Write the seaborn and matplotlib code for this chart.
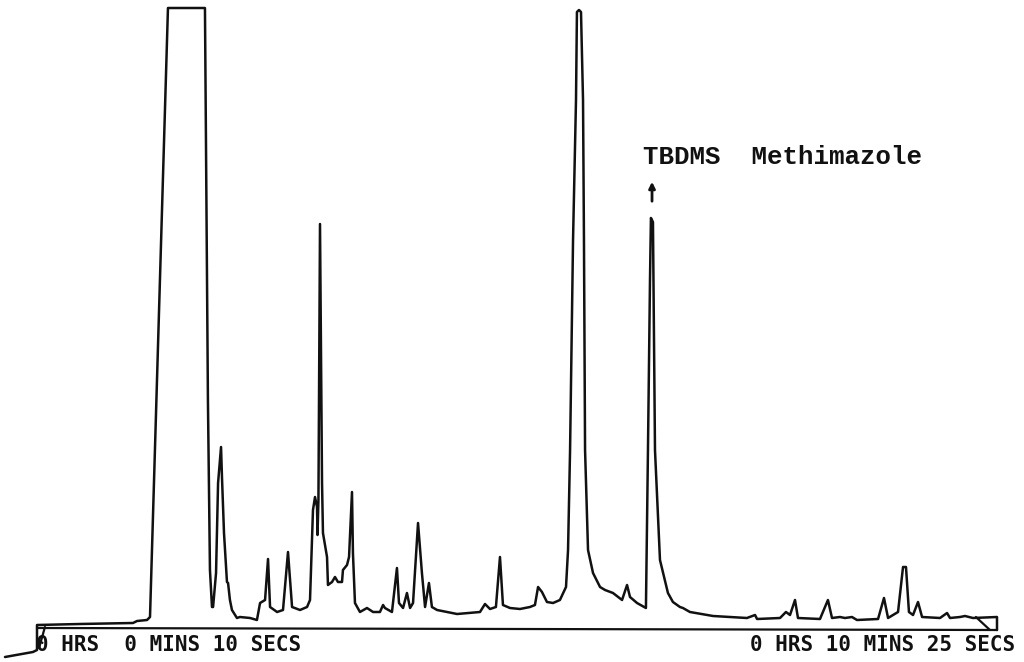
import matplotlib
matplotlib.use("Agg")
import matplotlib.pyplot as plt
import seaborn as sns
import pandas as pd

# Retention time (s) and detector response (arbitrary units)
time_s = [-10.5, 7.4, 10.0, 10.0, 37.5, 71.5, 74.1, 80.5, 82.4, 93.9, 117.6, 119.5, 120.8,
          122.1, 122.8, 124.7, 126.0, 127.9, 128.5, 129.8, 131.7, 132.4, 133.6, 134.9, 138.1,
          140.0, 146.5, 150.9, 152.9, 156.1, 158.0, 159.3, 163.8, 167.6, 170.8, 173.4, 178.5,
          183.0, 184.9, 186.8, 188.1, 189.4, 189.7, 190.3, 191.3, 192.6, 193.2, 195.8, 196.4,
          199.0, 200.9, 202.8, 205.4, 206.0, 208.6, 209.9, 211.8, 212.4, 213.7, 216.9, 221.4,
          225.3, 229.7, 231.7, 232.9, 237.4, 240.6, 241.9, 244.5, 247.0, 249.0, 250.9, 254.1,
          256.6, 258.6, 261.1, 263.0, 266.3, 272.7, 279.1, 293.8, 297.0, 300.2, 304.0, 306.6,
          308.5, 313.0, 319.4, 325.8, 329.0, 331.0, 333.5, 336.7, 340.6, 345.0, 348.9, 350.2,
          351.5, 353.4, 355.3, 355.9, 357.2, 358.5, 359.8, 360.4, 361.1, 363.0, 366.2, 370.7,
          373.9, 379.0, 384.8, 388.0, 389.9, 394.4, 400.1, 401.4, 402.7, 403.3, 404.6, 405.9,
          409.1, 414.2, 417.4, 421.9, 423.8, 428.3, 443.1, 464.8, 470.0, 471.3, 486.0, 489.8,
          492.4, 495.6, 497.5, 511.6, 516.7, 519.3, 524.4, 527.6, 532.1, 535.3, 548.8, 552.6,
          555.2, 561.6, 564.8, 566.7, 568.6, 571.2, 574.4, 577.0, 588.5, 593.0, 594.9, 601.3,
          604.5, 609.6, 625.0, 625.0]
response = [-2.9, -2.4, -2.2, 0.3, 0.4, 0.5, 0.7, 0.8, 1.1, 62.0, 62.0, 22.8, 5.8,
            2.1, 2.1, 5.5, 14.5, 18.1, 15.1, 9.5, 4.6, 4.5, 2.8, 1.8, 1.0,
            1.1, 1.0, 0.8, 2.5, 2.8, 6.9, 2.1, 1.6, 1.8, 7.6, 2.1, 1.8,
            2.1, 2.8, 11.8, 13.1, 12.1, 9.3, 12.8, 40.4, 14.5, 9.5, 7.1, 4.3,
            4.6, 5.1, 4.6, 4.6, 5.8, 6.3, 7.1, 13.6, 7.5, 2.5, 1.6, 2.0,
            1.6, 1.6, 2.3, 2.0, 1.6, 6.0, 2.5, 2.0, 3.5, 2.0, 2.5, 10.5,
            5.5, 2.1, 4.5, 2.1, 1.8, 1.6, 1.4, 1.6, 2.4, 1.9, 2.1, 7.1,
            2.3, 2.0, 1.9, 2.1, 2.3, 4.1, 3.6, 2.6, 2.5, 2.8, 4.1, 7.8,
            17.8, 38.8, 52.8, 61.6, 61.8, 61.6, 52.8, 38.8, 17.8, 7.8, 5.5, 4.1,
            3.8, 3.5, 2.8, 4.3, 3.1, 2.5, 2.0, 17.8, 34.8, 41.0, 40.6, 17.8,
            6.8, 3.5, 2.6, 2.1, 2.0, 1.6, 1.2, 1.0, 1.3, 0.9, 1.0, 1.6,
            1.3, 2.8, 1.0, 0.9, 2.8, 1.0, 1.1, 1.0, 1.1, 0.8, 0.9, 3.0,
            1.0, 1.6, 6.1, 6.1, 1.6, 1.3, 2.6, 1.1, 1.0, 1.5, 1.0, 1.1,
            1.2, 1.0, 1.1, -0.2]

# Integrator baseline and its end markers
baseline_t = [10.0, 625.0]
baseline_r = [0.0, -0.2]
start_mark_t = [15.1, 11.3]
start_mark_r = [0.1, -2.0]
end_mark_t = [611.5, 620.5]
end_mark_r = [1.1, -0.2]

start_label = "0 HRS  0 MINS 10 SECS"
end_label = "0 HRS 10 MINS 25 SECS"
peak_label = "TBDMS  Methimazole"
peak_time = 404.0

sns.set_style("white")

fig = plt.figure(figsize=(10.24, 6.62), dpi=100)
ax = fig.add_axes([0, 0, 1, 1])

ink = "#111111"
trace = pd.DataFrame({"t": time_s, "r": response})
sns.lineplot(data=trace, x="t", y="r", sort=False, estimator=None, ax=ax,
             color=ink, linewidth=1.8)
for tt, rr in [(baseline_t, baseline_r), (start_mark_t, start_mark_r), (end_mark_t, end_mark_r)]:
    sns.lineplot(x=tt, y=rr, sort=False, estimator=None, ax=ax, color=ink, linewidth=1.6)

ax.text(9.5, -1.7, start_label, ha="left", va="center", family="DejaVu Sans Mono",
        fontweight="bold", fontsize=15, color=ink)
ax.text(636.5, -1.7, end_label, ha="right", va="center", family="DejaVu Sans Mono",
        fontweight="bold", fontsize=15, color=ink)

ax.text(398.2, 47.1, peak_label, ha="left", va="center", family="Liberation Mono",
        fontweight="bold", fontsize=18.5, color=ink)
ax.annotate("", xy=(peak_time, 44.9), xytext=(peak_time, 42.4),
            arrowprops=dict(arrowstyle="-|>", lw=2.0, color=ink, mutation_scale=9))

ax.set_xlim(-13.7, 642.3)
ax.set_ylim(-3.4, 62.8)
ax.set_axis_off()
ax.set_xlabel("")
ax.set_ylabel("")

fig.savefig("out.png", dpi=100, facecolor="white")
